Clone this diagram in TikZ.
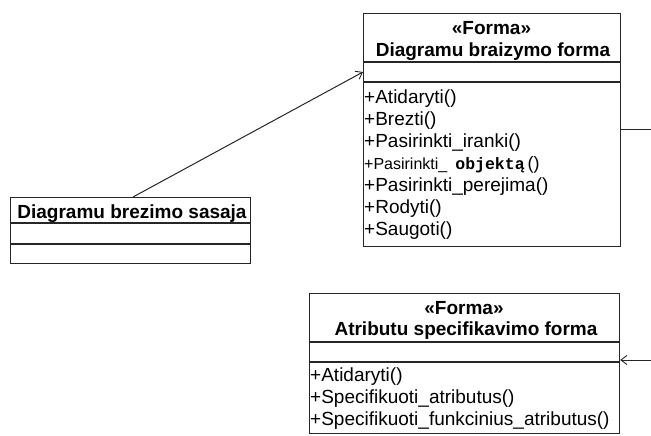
\documentclass[tikz,border=0pt]{standalone}
\usepackage{fontspec}
\setmainfont{Liberation Sans}
\newfontfamily\monofnt{Liberation Mono}
\usetikzlibrary{arrows.meta}
\begin{document}
\begin{tikzpicture}[x=1pt,y=-1pt,
  umlbox/.style={draw=black!85, line width=1.2pt, anchor=north west, inner sep=0pt},
  divider/.style={draw=black!85, line width=1.4pt},
  hdr/.style={anchor=base, inner sep=0pt, font=\fontsize{19}{22}\selectfont\bfseries},
  op/.style={anchor=base west, inner sep=0pt, font=\fontsize{19}{22}\selectfont},
  link/.style={draw=black!85, line width=1pt},
  tip/.style={-{Straight Barb[length=6pt,width=9pt,line width=0.9pt]}}
]
\useasboundingbox (0,0) rectangle (651,436);

% class: Diagramu braizymo forma
\node[umlbox, minimum width=257pt, minimum height=233pt] (forma) at (363,13) {};
\node[hdr] (formaSt) at (491.5,35) {«Forma»};
\node[hdr] (formaNm) at (493,57) {Diagramu braizymo forma};
\draw[divider] (forma.west |- 0,62) -- (forma.east |- 0,62);
\draw[divider] (forma.west |- 0,82) -- (forma.east |- 0,82);
\node[op] (f1) at (364,103) {+Atidaryti()};
\node[op] (f2) at (364,125) {+Brezti()};
\node[op] (f3) at (364,147) {+Pasirinkti\_iranki()};
\node[op] (f4) at (364,169) {\fontsize{16}{20}\selectfont+Pasirinkti\_\hspace{8pt}{\monofnt\bfseries\fontsize{16.5}{20}\selectfont objektą}\hspace{3pt}{\fontsize{18}{20}\selectfont()}};
\node[op] (f5) at (364,191) {+Pasirinkti\_perejima()};
\node[op] (f6) at (364,213) {+Rodyti()};
\node[op] (f7) at (364,235) {+Saugoti()};

% class: Diagramu brezimo sasaja
\node[umlbox, minimum width=240pt, minimum height=66pt] (sasaja) at (10,197) {};
\node[hdr] (sasajaNm) at (132,218) {Diagramu brezimo sasaja};
\draw[divider] (sasaja.west |- 0,223) -- (sasaja.east |- 0,223);
\draw[divider] (sasaja.west |- 0,244) -- (sasaja.east |- 0,244);

% class: Atributu specifikavimo forma
\node[umlbox, minimum width=310pt, minimum height=140pt] (atrib) at (309,293) {};
\node[hdr] (atribSt) at (464,314) {«Forma»};
\node[hdr] (atribNm) at (466,335) {Atributu specifikavimo forma};
\draw[divider] (atrib.west |- 0,342) -- (atrib.east |- 0,342);
\draw[divider] (atrib.west |- 0,362) -- (atrib.east |- 0,362);
\node[op] (a1) at (310,381) {+Atidaryti()};
\node[op] (a2) at (310,403) {+Specifikuoti\_atributus()};
\node[op] (a3) at (310,425) {+Specifikuoti\_funkcinius\_atributus()};

% connectors
\coordinate (outTop) at (651,129);
\coordinate (outBot) at (651,360);
\draw[link, tip] ([xshift=123pt]sasaja.north west) -- ([yshift=-59pt]forma.north west);
\draw[link] (forma.east |- outTop) -- (outTop);
\draw[link, tip] (outBot) -- (atrib.east |- outBot);
\end{tikzpicture}
\end{document}
